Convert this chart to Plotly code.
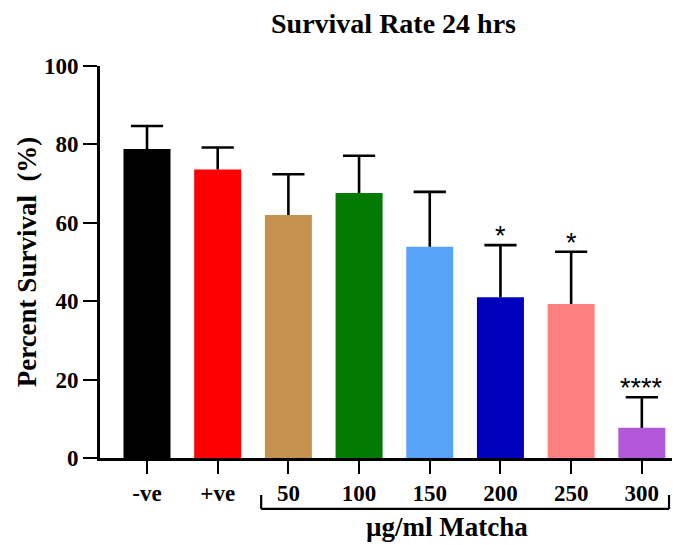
import plotly.graph_objects as go

categories = ["-ve", "+ve", "50", "100", "150", "200", "250", "300"]
survival = [78.8, 73.6, 62.0, 67.6, 53.9, 41.0, 39.3, 7.7]
sem_upper = [5.9, 5.6, 10.4, 9.5, 14.0, 13.3, 13.3, 7.8]
bar_colors = ["#000000", "#FF0000", "#C4914E", "#007A00", "#58A3FA", "#0000BC", "#FF8080", "#B157D8"]
significance = ["", "", "", "", "", "*", "*", "****"]
y_ticks = [0, 20, 40, 60, 80, 100]
group_label = "µg/ml Matcha"
group_members = ["50", "100", "150", "200", "250", "300"]

SERIF = "Liberation Serif"
x_idx = list(range(len(categories)))
tops = [v + e for v, e in zip(survival, sem_upper)]

fig = go.Figure()
fig.add_trace(go.Bar(
    x=x_idx, y=survival, width=0.665,
    marker=dict(color=bar_colors, line=dict(width=0)),
    showlegend=False, hoverinfo="skip",
))

# upward-only error bars: stems + caps
stem_x, stem_y = [], []
for i, (v, t) in enumerate(zip(survival, tops)):
    stem_x += [i, i, None]
    stem_y += [v, t, None]
fig.add_trace(go.Scatter(x=stem_x, y=stem_y, mode="lines",
                         line=dict(color="black", width=2.6),
                         showlegend=False, hoverinfo="skip"))
fig.add_trace(go.Scatter(x=x_idx, y=tops, mode="markers",
                         marker=dict(symbol="line-ew", size=23,
                                     line=dict(color="black", width=2.6)),
                         showlegend=False, hoverinfo="skip"))

for i, (t, s) in enumerate(zip(tops, significance)):
    if s:
        fig.add_annotation(x=i, y=t, text=s, showarrow=False,
                           yanchor="middle", yshift=9,
                           font=dict(family="Liberation Sans", size=27, color="black"))

# bracket under the Matcha concentrations
g0 = categories.index(group_members[0]) - 0.385
g1 = categories.index(group_members[-1]) + 0.385
yb_top, yb_bot = -0.0944, -0.130
for x0, y0, x1, y1 in [(g0, yb_top, g0, yb_bot), (g0, yb_bot, g1, yb_bot), (g1, yb_bot, g1, yb_top)]:
    fig.add_shape(type="line", xref="x", yref="paper", x0=x0, y0=y0, x1=x1, y1=y1,
                  line=dict(color="black", width=2.2))

fig.add_annotation(x=(g0 + g1) / 2 - 0.25, xref="x", y=-0.175, yref="paper",
                   text=group_label, showarrow=False, yanchor="middle",
                   font=dict(family=SERIF, size=27, color="black", weight="bold"))

fig.add_annotation(x=(393.5 - 100) / 580, xref="paper", y=1 + (66 - 23) / 392, yref="paper",
                   text="Survival Rate 24 hrs", showarrow=False, yanchor="middle",
                   height=30, valign="middle",
                   font=dict(family=SERIF, size=28, color="black", weight="bold"))

# page has an 8px body margin, so the figure is sized 8px smaller
fig.update_layout(
    width=672, height=537,
    margin=dict(l=92, r=0, t=58, b=87, autoexpand=False),
    plot_bgcolor="white", paper_bgcolor="white",
    xaxis=dict(range=[-0.665, 7.54], tickmode="array", tickvals=x_idx, ticktext=categories,
               showline=True, linecolor="black", linewidth=2.6, automargin=False,
               ticks="outside", ticklen=13, tickwidth=2.4, tickcolor="black",
               showgrid=False, zeroline=False,
               tickfont=dict(family=SERIF, size=23, color="black", weight="bold")),
    yaxis=dict(range=[0, 100], tickvals=y_ticks, automargin=False,
               showline=True, linecolor="black", linewidth=2.6,
               ticks="outside", ticklen=14, tickwidth=2.4, tickcolor="black",
               showgrid=False, zeroline=False,
               tickfont=dict(family=SERIF, size=23, color="black", weight="bold"),
               title=dict(text="Percent Survival\u00a0 (%)", standoff=0,
                          font=dict(family=SERIF, size=27, color="black", weight="bold"))),
)

fig.write_html("out.html")
